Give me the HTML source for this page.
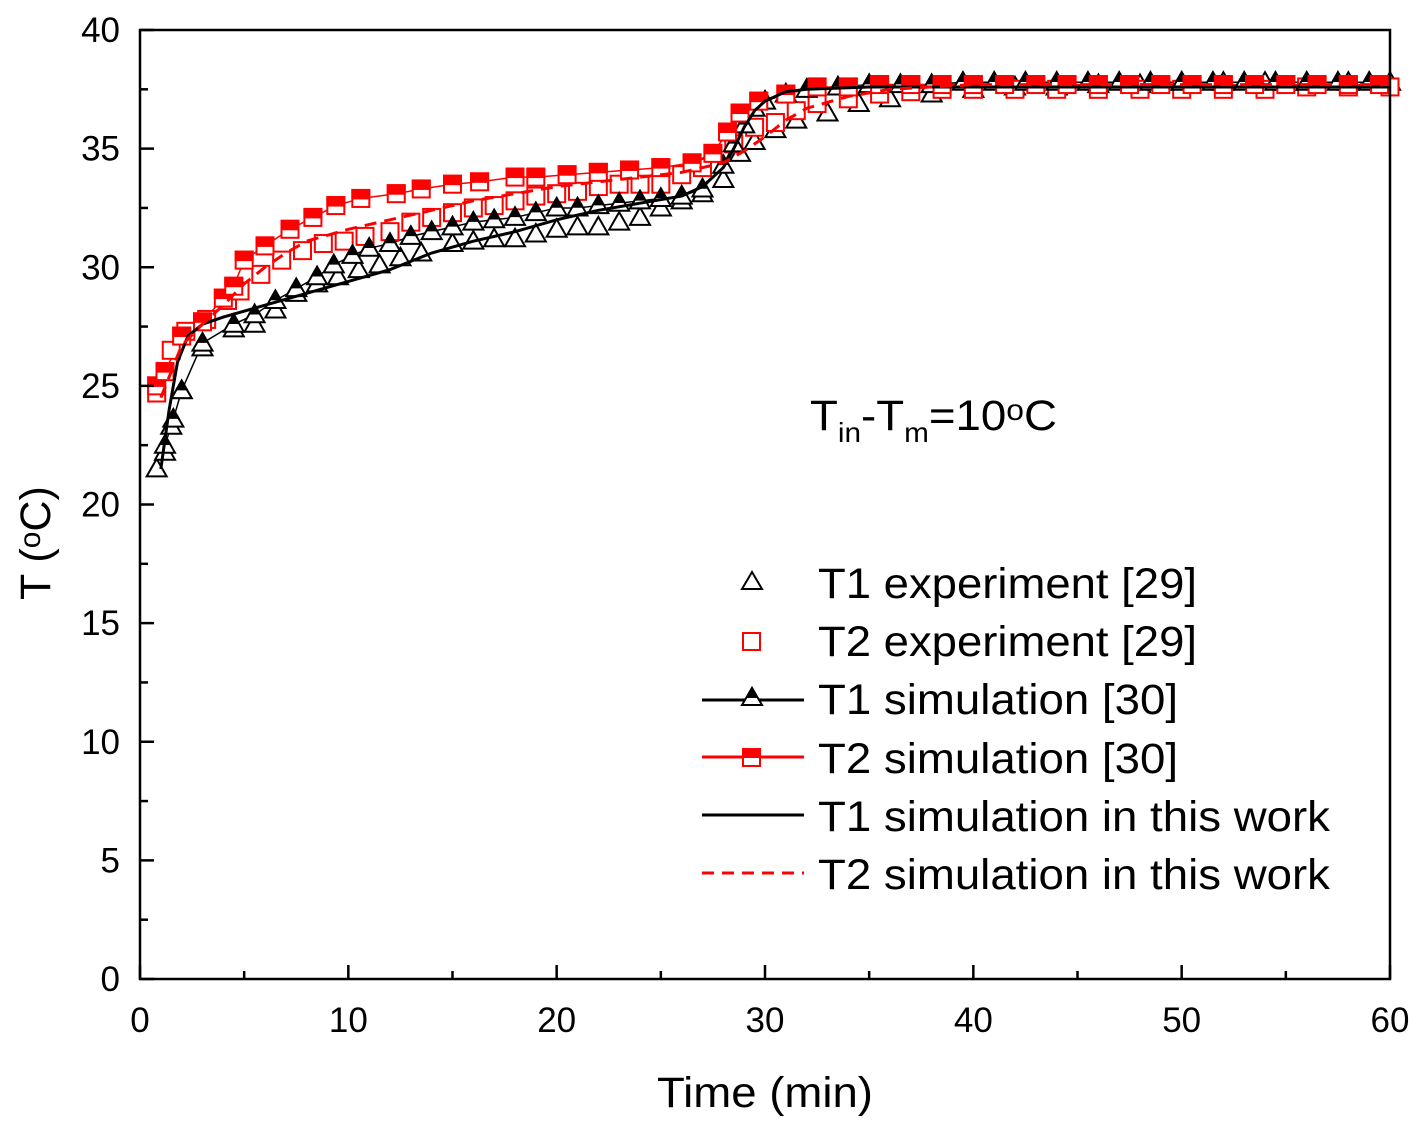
<!DOCTYPE html>
<html><head><meta charset="utf-8"><style>
body{margin:0;background:#fff}
svg{display:block;font-family:"Liberation Sans",Arial,sans-serif}
</style></head><body>
<svg id="c" width="1417" height="1122"></svg>
<script>
const t1ExpT=[0.8,1.2,1.5,2,3,4.5,5.5,6.5,7.5,8.5,9.5,10.5,11.5,12.5,13.5,15,16,17,18,19,20,21,22,23,24,25,26,27,28,28.8,29.5,30.5,31.5,33,34.5,36,38,40,42,44,46,48,50,52,54,56,58,60];
const t1ExpV=[21.5,22.2,23.3,24.8,26.6,27.4,27.6,28.2,28.9,29.3,29.6,29.9,30.1,30.4,30.6,31,31.1,31.2,31.2,31.4,31.6,31.7,31.7,31.9,32.1,32.5,32.8,33.1,33.7,34.8,35.3,35.8,36.2,36.5,36.9,37.1,37.3,37.5,37.6,37.6,37.7,37.7,37.8,37.8,37.8,37.8,37.8,37.8];
const t2ExpT=[0.8,1.5,2.2,3.2,4.2,4.8,5.8,6.8,7.8,8.8,9.8,10.8,12,13,14,15,16,17,18,19,20,21,22,23,24,25,26,27,28.5,29.5,30.5,31.5,32.5,34,35.5,37,38.5,40,42,44,46,48,50,52,54,56,58,60];
const t2ExpV=[24.7,26.5,27.3,27.8,28.6,29.0,29.7,30.3,30.7,31.0,31.1,31.3,31.5,31.9,32.1,32.3,32.5,32.6,32.8,33.0,33.1,33.2,33.4,33.5,33.5,33.5,33.9,34.2,35.2,35.9,36.1,36.6,36.9,37.1,37.3,37.4,37.5,37.5,37.5,37.5,37.5,37.5,37.5,37.5,37.5,37.6,37.6,37.6];
const t1SimT=[1.2,1.6,2,3,4.5,5.5,6.5,7.5,8.5,9.3,10.2,11,12,13,14,15,16,17,18,19,20,21,22,23,24,25,26,27,28,28.5,29,29.5,30,31,32,33.5,35,36.5,38,39.5,41,42.5,44,45.5,47,48.5,50,51.5,53,54.5,56,57.5,59];
const t1SimV=[22.5,23.6,24.8,26.8,27.6,28,28.6,29.1,29.6,30.1,30.5,30.8,31,31.3,31.5,31.7,31.9,32,32.1,32.3,32.5,32.5,32.6,32.7,32.8,32.9,33,33.3,34.3,35.2,36,36.7,37,37.3,37.5,37.6,37.7,37.7,37.7,37.8,37.8,37.8,37.8,37.8,37.8,37.8,37.8,37.8,37.8,37.8,37.8,37.8,37.8];
const t2SimT=[0.8,1.2,2,3,4,4.5,5,6,7.2,8.3,9.4,10.6,12.3,13.5,15,16.3,18,19,20.5,22,23.5,25,26.5,27.5,28.2,28.8,29.7,31,32.5,34,35.5,37,38.5,40,41.5,43,44.5,46,47.5,49,50.5,52,53.5,55,56.5,58,59.5];
const t2SimV=[25.0,25.6,27.1,27.7,28.7,29.2,30.3,30.9,31.6,32.1,32.6,32.9,33.1,33.3,33.5,33.6,33.8,33.8,33.9,34.0,34.1,34.2,34.4,34.8,35.7,36.5,37.0,37.3,37.6,37.6,37.7,37.7,37.7,37.7,37.7,37.7,37.7,37.7,37.7,37.7,37.7,37.7,37.7,37.7,37.7,37.7,37.7];
const t1WorkT=[1,1.4,1.8,2.3,3,4,6,8,10,12,14,16,18,20,22,24,26,27,28,28.5,29,29.5,30,31,32,35,40,50,60];
const t1WorkV=[21.5,24,26,27.1,27.6,27.9,28.4,28.9,29.4,29.9,30.6,31.1,31.5,32,32.4,32.7,33,33.4,34.2,35,35.9,36.6,37.0,37.4,37.5,37.6,37.6,37.6,37.6];
const t2WorkT=[1,2,3,4,5,6,7,8,10,12,14,16,18,20,22,24,26,28,29,30,31,32,34,36,40,50,60];
const t2WorkV=[24.5,26.7,27.6,28.4,29.3,30.0,30.6,31.1,31.6,32.0,32.4,32.8,33.1,33.4,33.6,33.8,34.0,34.4,34.9,35.5,36.2,36.7,37.2,37.5,37.7,37.7,37.7];
const xTicks=[0,10,20,30,40,50,60];
const yTicks=[0,5,10,15,20,25,30,35,40];

const X0=140,X1=1390,Y0=979,Y1=30;
const sx=t=>X0+t/60*(X1-X0);
const sy=v=>Y0-v/40*(Y0-Y1);
const NS="http://www.w3.org/2000/svg";
const svg=document.getElementById('c');
function mk(tag,attrs,parent){const e=document.createElementNS(NS,tag);for(const k in attrs)e.setAttribute(k,attrs[k]);(parent||svg).appendChild(e);return e;}

const plot=mk('g',{});


mk('defs',{}).innerHTML='<clipPath id="cp"><rect x="'+X0+'" y="'+Y1+'" width="'+(X1-X0)+'" height="'+(Y0-Y1)+'"/></clipPath>';

function poly(T,V,stroke,w,dash,name){
  const p=mk('polyline',{points:T.map((t,i)=>sx(t)+','+sy(V[i])).join(' '),fill:'none',stroke:stroke,'stroke-width':w,'clip-path':'url(#cp)'},plot);
  if(dash)p.setAttribute('stroke-dasharray',dash);
  
  
}
function tri(g,cx,cy,fillTop,col){
  const s=10;
  mk('polygon',{points:`${cx},${cy-s} ${cx-s},${cy+s*0.75} ${cx+s},${cy+s*0.75}`,fill:'#fff',stroke:col,'stroke-width':2},g);
  if(fillTop)mk('polygon',{points:`${cx},${cy-s} ${cx-s*0.5},${cy-s*0.125} ${cx+s*0.5},${cy-s*0.125}`,fill:col,stroke:col,'stroke-width':2},g);
}
function sq(g,cx,cy,fillTop,col){
  const s=8.5;
  mk('rect',{x:cx-s,y:cy-s,width:2*s,height:2*s,fill:'#fff',stroke:col,'stroke-width':2},g);
  if(fillTop)mk('rect',{x:cx-s,y:cy-s,width:2*s,height:s,fill:col,stroke:col,'stroke-width':2},g);
}
function markers(T,V,fn,fill,col,name){
  const g=mk('g',{},plot);
  
  
  T.forEach((t,i)=>fn(g,sx(t),sy(V[i]),fill,col));
}
poly(t1SimT,t1SimV,'#000',1.5,null,'t1-sim30-line');
poly(t2SimT,t2SimV,'#f00',1.5,null,'t2-sim30-line');
markers(t1ExpT,t1ExpV,tri,false,'#000','t1-experiment-markers');
markers(t2ExpT,t2ExpV,sq,false,'#f00','t2-experiment-markers');
markers(t1SimT,t1SimV,tri,true,'#000','t1-sim30-markers');
markers(t2SimT,t2SimV,sq,true,'#f00','t2-sim30-markers');
poly(t1WorkT,t1WorkV,'#000',3,null,'t1-this-work-line');
poly(t2WorkT,t2WorkV,'#f00',3,'12,8','t2-this-work-line');

const ax=mk('rect',{x:X0,y:Y1,width:X1-X0,height:Y0-Y1,fill:'none',stroke:'#000','stroke-width':2.5});


const xa=mk('g',{'font-size':35,'text-anchor':'middle'});


for(let t=0;t<=60;t+=5){const maj=t%10===0;mk('line',{x1:sx(t),x2:sx(t),y1:Y0,y2:Y0-(maj?14:8),stroke:'#000','stroke-width':2.5},xa);}
xTicks.forEach(t=>{const e=mk('text',{x:sx(t),y:Y0+53},xa);e.textContent=t;

});
const ya=mk('g',{'font-size':35,'text-anchor':'end'});


for(let v=0;v<=40;v+=2.5){const maj=v%5===0;mk('line',{x1:X0,x2:X0+(maj?14:8),y1:sy(v),y2:sy(v),stroke:'#000','stroke-width':2.5},ya);}
yTicks.forEach(v=>{const e=mk('text',{x:X0-20,y:sy(v)+12},ya);e.textContent=v;

});
</script>
<svg style="position:absolute;left:0;top:0" width="1417" height="1122">
<text x="657" y="1107" font-size="43" textLength="216" lengthAdjust="spacingAndGlyphs">Time (min)</text>
<text transform="translate(50,600) rotate(-90)" font-size="43">T (<tspan font-size="30" dy="-10">o</tspan><tspan dy="10">C)</tspan></text>
<text x="810" y="430" font-size="43" textLength="247" lengthAdjust="spacingAndGlyphs">T<tspan font-size="28" dy="12">in</tspan><tspan dy="-12">-T</tspan><tspan font-size="28" dy="12">m</tspan><tspan dy="-12">=10</tspan><tspan font-size="30" dy="-10">o</tspan><tspan dy="10">C</tspan></text>
<g font-size="43">
 <g><polygon points="752,572 742,589 762,589" fill="#fff" stroke="#000" stroke-width="2"/><text x="818" y="598" textLength="379" lengthAdjust="spacingAndGlyphs">T1 experiment [29]</text></g>
 <g><rect x="743" y="633" width="17" height="17" fill="#fff" stroke="#f00" stroke-width="2"/><text x="818" y="656" textLength="379" lengthAdjust="spacingAndGlyphs">T2 experiment [29]</text></g>
 <g><line x1="702" y1="700" x2="804" y2="700" stroke="#000" stroke-width="3"/><polygon points="752,688 742,705 762,705" fill="#fff" stroke="#000" stroke-width="2"/><polygon points="752,688 747,697 757,697" fill="#000" stroke="#000" stroke-width="2"/><text x="818" y="714" textLength="360" lengthAdjust="spacingAndGlyphs">T1 simulation [30]</text></g>
 <g><line x1="702" y1="757" x2="804" y2="757" stroke="#f00" stroke-width="3"/><rect x="743" y="749" width="17" height="17" fill="#fff" stroke="#f00" stroke-width="2"/><rect x="743" y="749" width="17" height="8" fill="#f00" stroke="#f00" stroke-width="2"/><text x="818" y="773" textLength="360" lengthAdjust="spacingAndGlyphs">T2 simulation [30]</text></g>
 <g><line x1="702" y1="815" x2="804" y2="815" stroke="#000" stroke-width="3"/><text x="818" y="831" textLength="512" lengthAdjust="spacingAndGlyphs">T1 simulation in this work</text></g>
 <g><line x1="702" y1="873" x2="804" y2="873" stroke="#f00" stroke-width="3" stroke-dasharray="12,8"/><text x="818" y="889" textLength="512" lengthAdjust="spacingAndGlyphs">T2 simulation in this work</text></g>
</g>
</svg>
</body></html>
